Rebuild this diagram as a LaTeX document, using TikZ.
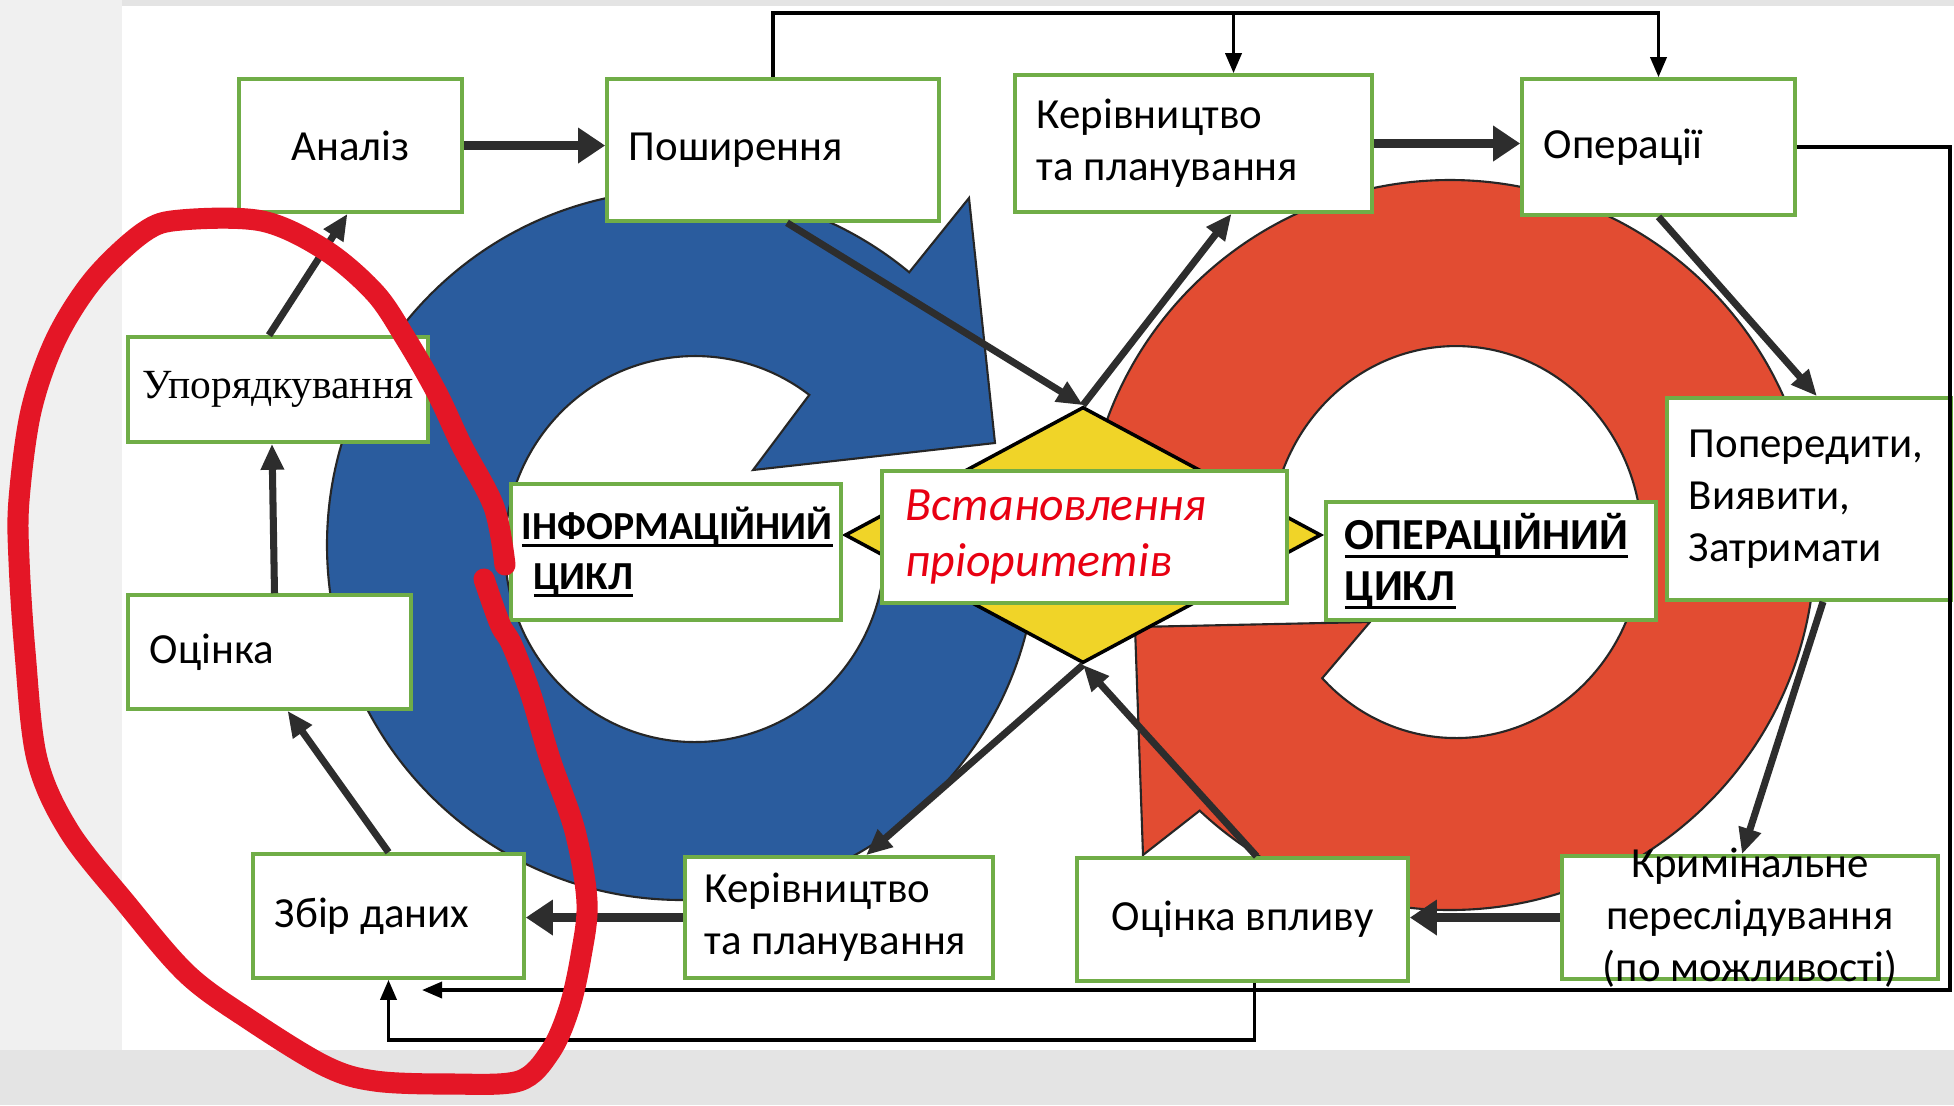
\documentclass[tikz,border=0pt]{standalone}
\usepackage{fontspec}
\setmainfont{Carlito}
\newfontfamily\timesfont{Liberation Serif}
\usepackage{tikz}
\usetikzlibrary{arrows.meta,shapes.geometric}

\definecolor{boxgreen}{RGB}{112,173,71}
\definecolor{infblue}{RGB}{42,92,158}
\definecolor{opred}{RGB}{226,76,50}
\definecolor{prioyellow}{RGB}{240,212,40}
\definecolor{linegray}{RGB}{45,45,45}
\definecolor{prtred}{RGB}{232,0,18}
\definecolor{markred}{RGB}{228,22,38}
\definecolor{pagegray}{RGB}{228,228,228}
\definecolor{leftgray}{RGB}{240,240,240}

\hyphenpenalty=10000
\newcommand{\cycunder}[1]{\leavevmode\setbox0=\hbox{#1}\rlap{\rule[-0.2em]{\wd0}{0.85pt}}\box0}

\begin{document}
\begin{tikzpicture}
[
	               x = 0.01cm,
	               y = -0.01cm,
	              >= {Triangle[length=0.26cm,width=0.22cm]},
	     box/.style = { draw=boxgreen, line width=1pt, fill=white, inner ysep=0pt,
	                    font=\fontsize{12.2}{14.8}\selectfont },
	    lbox/.style = { box, align=flush left, inner xsep=0.22cm },
	    cbox/.style = { box, align=center },
	cyclebox/.style = { lbox, font=\fontsize{12.6}{14.4}\selectfont\bfseries },
	    ring/.style = { draw=black!85, line width=0.6pt },
	   heavy/.style = { ->, line width=2.8pt, draw=linegray, >={Triangle[length=0.27cm,width=0.34cm]} },
	    link/.style = { ->, line width=2pt, draw=linegray },
	    back/.style = { ->, line width=1pt, draw=black, >={Triangle[length=0.2cm,width=0.16cm]} }
]
	\useasboundingbox (0,0) rectangle (1954,1105);

	% page
	\fill[pagegray] (0,0) rectangle (1954,1105);
	\fill[leftgray] (0,0) rectangle (122,1050);
	\fill[white] (122,6) rectangle (1954,1050);

	% cycles
	\filldraw[ring, fill=infblue] (1037,545) arc[start angle=0, end angle=309.8, radius=355]
		-- (969,198) -- (995,443) -- (753,470) -- (809.3,394.9)
		arc[start angle=307, end angle=0, x radius=190, y radius=193] -- cycle;
	\filldraw[ring, fill=opred] (1085,545) arc[start angle=180, end angle=493.3, radius=365]
		-- (1143,855) -- (1135,627) -- (1370,622) -- (1322.2,678.2)
		arc[start angle=136, end angle=-180, x radius=186, y radius=196] -- cycle;

	% nodes
	\node (prio) at (1083,535) [diamond, draw=black, line width=1pt, fill=prioyellow,
		minimum width=4.76cm, minimum height=2.56cm, inner sep=0pt] {};

	\node (anal)   at (350.5,145.5) [cbox, minimum width=2.23cm, minimum height=1.33cm] {Аналіз};
	\node (posh)   at (773,150)     [lbox, text width=2.88cm, minimum height=1.42cm] {Поширення};
	\node (kerT)   at (1193.5,143.5) [lbox, text width=3.13cm, minimum height=1.37cm] {Керівництво\\та планування};
	\node (oper)   at (1658.5,147)  [lbox, text width=2.29cm, minimum height=1.36cm] {Операції};

	\node (upor)   at (278,389.5)   [cbox, minimum width=3cm, minimum height=1.05cm,
		font=\fontsize{11.8}{14.8}\timesfont] {Упорядкування};
	\node (ocin)   at (269.5,652)   [lbox, text width=2.39cm, minimum height=1.14cm] {Оцінка};
	\node (zbir)   at (388.5,916)   [lbox, text width=2.27cm, minimum height=1.24cm] {Збір даних};
	\node (kerB)   at (839,917.5)   [lbox, inner xsep=0.2cm, text width=2.68cm, minimum height=1.21cm] {Керівництво\\та планування};
	\node (vplyv)  at (1242.5,919.5) [cbox, minimum width=3.31cm, minimum height=1.23cm] {Оцінка впливу};
	\node (krym)   at (1750,917.5)  [cbox, minimum width=3.76cm, minimum height=1.23cm,
		inner ysep=-0.13cm] {Кримінальне\\переслідування\\(по можливості)};
	\node (pope)   at (1809,499)    [lbox, text width=2.40cm, minimum height=2.02cm] {Попередити,\\Виявити,\\Затримати};

	\node (infcyc) at (676,552)     [cyclebox, inner xsep=0.11cm, text width=3.08cm, minimum height=1.36cm,
		font=\fontsize{11.3}{14.2}\selectfont\bfseries] {\cycunder{ІНФОРМАЦІЙНИЙ}\\\hspace*{0.3em}\cycunder{ЦИКЛ}};
	\node (opcyc)  at (1491,561)    [cyclebox, inner xsep=0.19cm, text width=2.92cm, minimum height=1.18cm]
		{\cycunder{ОПЕРАЦІЙНИЙ}\\\cycunder{ЦИКЛ}};
	\node (prtx)   at (1084.5,537)  [lbox, inner xsep=0.24cm, text width=3.57cm, minimum height=1.32cm,
		font=\fontsize{13.6}{15.8}\selectfont\itshape, text=prtred] {Встановлення\\пріоритетів};

	% edges
	\draw[heavy] (anal.east) -- (anal.east -| posh.west);
	\draw[heavy] (kerT.east) -- (kerT.east -| oper.west);
	\draw[heavy] (krym.west) -- (krym.west -| vplyv.east);
	\draw[heavy] (kerB.west) -- (kerB.west -| zbir.east);

	\draw[link] ([xshift=-0.09cm]upor.north) -- ([xshift=-0.03cm]anal.south);
	\draw[link] ([xshift=0.05cm]ocin.north) -- ([xshift=-0.06cm]upor.south);
	\draw[link] (zbir.north) -- ([xshift=0.18cm]ocin.south);
	\draw[link] ([xshift=0.14cm]posh.south) -- (prio.north);
	\draw[link] (prio.north) -- ([xshift=0.38cm]kerT.south);
	\draw[link] (oper.south) -- ([xshift=0.08cm]pope.north);
	\draw[link] ([xshift=0.14cm]pope.south) -- ([xshift=-0.08cm]krym.north);
	\draw[link] ([xshift=0.14cm]vplyv.north) -- (prio.south);
	\draw[link] (prio.south) -- ([xshift=0.27cm]kerB.north);

	% feedback
	\coordinate (topline) at (0,13);
	\coordinate (kerTin)  at ([xshift=0.4cm]kerT.north);
	\coordinate (rcorner) at (1950,990);
	\coordinate (zbirin)  at (422,990);
	\draw[back] (posh.north) |- (topline -| oper.north) -- (oper.north);
	\draw[back] (kerTin |- topline) -- (kerTin);
	\draw[back] (oper.east) -| (rcorner) -- (zbirin);
	\draw[back] ([xshift=0.12cm]vplyv.south) -- ++(0,57) -| (zbir.south);

	% hand-drawn mark
	\draw[markred, line width=6pt, line cap=round, line join=round]
		plot[smooth, tension=0.55] coordinates {(505,565) (494,507) (462,446) (437,393) (406,339)
		(375,293) (325,250) (262,221) (181,220) (144,232) (94,279) (56,339) (31,411) (19,500)
		(19,560) (25,652) (37,759) (69,831) (125,902) (187,974) (250,1020) (325,1066) (375,1081)
		(450,1084) (519,1081) (550,1052) (569,1009) (581,956) (587,902) (575,831) (550,759)
		(531,695) (512,645) (500,624) (484,579)};

\end{tikzpicture}
\end{document}
